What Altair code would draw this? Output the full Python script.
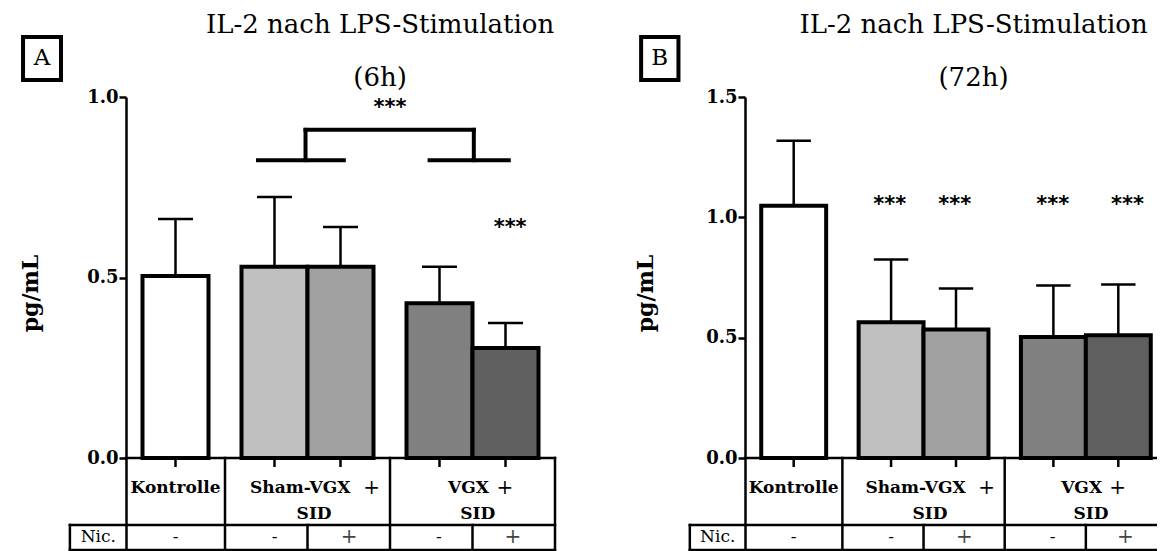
import altair as alt
import pandas as pd

# ---------------- data ----------------
bar_fills = ["#ffffff", "#c0c0c0", "#a0a0a0", "#808080", "#606060"]
mean_6h = [0.504, 0.530, 0.530, 0.429, 0.305]
sd_6h = [0.158, 0.193, 0.110, 0.101, 0.069]
mean_72h = [1.048, 0.564, 0.534, 0.503, 0.510]
sd_72h = [0.270, 0.261, 0.170, 0.214, 0.211]
yticks_6h = [0.0, 0.5, 1.0]
yticks_72h = [0.0, 0.5, 1.0, 1.5]

title_main = "IL-2 nach LPS-Stimulation"
subtitle_6h = "(6h)"
subtitle_72h = "(72h)"
y_title = "pg/mL"
group_bold = ["Kontrolle", "Sham-VGX", "VGX"]
group_line2 = ["SID", "SID"]
nic_label = "Nic."
nic_minus = ["-", "-", "-"]
nic_plus = ["+", "+"]

sig_6h_text = ["***", "***"]
sig_6h_y = [0.97, 0.637]
sig_72h_text = ["***", "***", "***", "***"]
sig_72h_y = [1.051, 1.051, 1.051, 1.051]

# ---------------- layout ----------------
XPOS = [0.75, 2.25, 3.25, 4.75, 5.75]
XMAX = 6.5
CAP = 0.265
TOP_PX = 361.0
BOTTOM_PX = 93.0
H = int(TOP_PX + BOTTOM_PX)
FONT = "DejaVu Serif"
SVG_W, SVG_H = 1149, 535
PAD_L, PAD_T = 118, 89


def y_below(ymax, px):
    return -px / TOP_PX * ymax


def y_above(ymax, px):
    return ymax * (1 + px / TOP_PX)


def panel(means, sds, ymax, yticks, subtitle, letter, width, title_cx,
          ytitle_dx, box_x, sig_text, sig_x, sig_y, brackets):
    ysc = alt.Scale(domain=[y_below(ymax, BOTTOM_PX), ymax], nice=False, zero=False)
    xsc = alt.Scale(domain=[0, XMAX], nice=False, zero=False)
    yaxis = alt.Axis(values=yticks, format=".1f", grid=False, domain=True,
                     domainColor="black", domainWidth=2.5, ticks=True,
                     tickColor="black", tickWidth=2.5, tickSize=7,
                     labelFont=FONT, labelFontWeight="bold", labelFontSize=18,
                     labelColor="black", labelPadding=1,
                     title=y_title, titleFont=FONT, titleFontWeight="bold",
                     titleFontSize=22, titleColor="black", titleX=ytitle_dx,
                     titleY=196, titleBaseline="middle", titleAngle=270,
                     titleAlign="center")

    def X(f):
        return alt.X(f, type="quantitative", scale=xsc, axis=None)

    def Y(f):
        return alt.Y(f, type="quantitative", scale=ysc, axis=yaxis)

    bars = pd.DataFrame({
        "x0": [p - 0.5 for p in XPOS], "x1": [p + 0.5 for p in XPOS], "xc": XPOS,
        "c0": [p - CAP for p in XPOS], "c1": [p + CAP for p in XPOS],
        "base": 0.0, "mean": means, "top": [m + s for m, s in zip(means, sds)],
        "tick": y_below(ymax, 9), "fill": bar_fills,
    })

    rect = alt.Chart(bars).mark_rect(stroke="black", strokeWidth=4).encode(
        x=X("x0"), x2="x1", y=Y("mean"), y2="base",
        fill=alt.Fill("fill:N", scale=None))
    err = alt.Chart(bars).mark_rule(color="black", strokeWidth=2.5).encode(
        x=X("xc"), y=Y("mean"), y2="top")
    cap = alt.Chart(bars).mark_rule(color="black", strokeWidth=2.5).encode(
        x=X("c0"), x2="c1", y=Y("top"))
    ticks = alt.Chart(bars).mark_rule(color="black", strokeWidth=2.5).encode(
        x=X("xc"), y=Y("base"), y2="tick")

    sig = alt.Chart(pd.DataFrame({"t": sig_text, "x": sig_x, "y": sig_y})).mark_text(
        font="DejaVu Sans", fontWeight="bold", fontSize=21, color="black",
        baseline="middle").encode(x=X("x"), y=Y("y"), text="t:N")

    layers = [rect, err, cap, ticks, sig]

    if brackets is not None:
        br = alt.Chart(pd.DataFrame(brackets, columns=["x", "x2", "y", "y2"])).mark_rule(
            color="black", strokeWidth=4, strokeCap="square").encode(
            x=X("x"), x2="x2", y=Y("y"), y2="y2")
        layers.append(br)

    # titles
    tdf = pd.DataFrame({"t": [title_main, subtitle], "x": [title_cx, title_cx],
                        "y": [y_above(ymax, 72), y_above(ymax, 19)]})
    titles = alt.Chart(tdf).mark_text(font=FONT, fontSize=26, color="black",
                                      baseline="middle").encode(
        x=X("x"), y=Y("y"), text="t:N")
    layers.append(titles)

    # letter box
    box = alt.Chart(pd.DataFrame({"x": [box_x], "x2": [box_x + 0.575],
                                  "y": [y_above(ymax, 60)], "y2": [y_above(ymax, 17)],
                                  "t": [letter], "xm": [box_x + 0.2875],
                                  "ym": [y_above(ymax, 39)]}))
    layers.append(box.mark_rect(filled=False, stroke="black", strokeWidth=4).encode(
        x=X("x"), x2="x2", y=Y("y"), y2="y2"))
    layers.append(box.mark_text(font=FONT, fontSize=23, color="black",
                                baseline="middle").encode(
        x=X("xm"), y=Y("ym"), text="t:N"))

    # table lines
    rb = y_below(ymax, 67)
    nb = y_below(ymax, 92)
    segs = [
        (0, XMAX, 0, 0),
        (-0.85, XMAX, rb, rb),
        (-0.85, XMAX, nb, nb),
        (1.5, 1.5, 0, nb),
        (4.0, 4.0, 0, nb),
        (XMAX, XMAX, 0, nb),
        (-0.85, -0.85, rb, nb),
        (2.75, 2.75, rb, nb),
        (5.25, 5.25, rb, nb),
    ]
    lines = alt.Chart(pd.DataFrame(segs, columns=["x", "x2", "y", "y2"])).mark_rule(
        color="black", strokeWidth=2.5, strokeCap="square").encode(
        x=X("x"), x2="x2", y=Y("y"), y2="y2")
    layers.append(lines)

    l1 = y_below(ymax, 30)
    l2 = y_below(ymax, 56)
    ln = y_below(ymax, 79)
    bold_c = pd.DataFrame({"t": [group_bold[0]] + group_line2,
                           "x": [0.75, 2.85, 5.33], "y": [l1, l2, l2]})
    layers.append(alt.Chart(bold_c).mark_text(font=FONT, fontWeight="bold", fontSize=17,
                                              color="black", baseline="middle").encode(
        x=X("x"), y=Y("y"), text="t:N"))
    bold_r = pd.DataFrame({"t": group_bold[1:], "x": [3.40, 5.50], "y": [l1, l1]})
    layers.append(alt.Chart(bold_r).mark_text(font=FONT, fontWeight="bold", fontSize=17,
                                              color="black", baseline="middle",
                                              align="right").encode(
        x=X("x"), y=Y("y"), text="t:N"))
    plus_hdr = pd.DataFrame({"t": ["+", "+"], "x": [3.72, 5.74], "y": [l1, l1]})
    layers.append(alt.Chart(plus_hdr).mark_text(font=FONT, fontSize=20, color="black",
                                                baseline="middle").encode(
        x=X("x"), y=Y("y"), text="t:N"))
    nic_df = pd.DataFrame({"t": [nic_label] + nic_minus,
                           "x": [-0.42, 0.75, 2.25, 4.74],
                           "y": [ln] * 4})
    layers.append(alt.Chart(nic_df).mark_text(font=FONT, fontSize=17, color="black",
                                              baseline="middle").encode(
        x=X("x"), y=Y("y"), text="t:N"))
    nicp_df = pd.DataFrame({"t": nic_plus, "x": [3.38, 5.86], "y": [ln] * 2})
    layers.append(alt.Chart(nicp_df).mark_text(font=FONT, fontSize=20, color="#444444",
                                               baseline="middle").encode(
        x=X("x"), y=Y("y"), text="t:N"))

    return alt.layer(*layers).properties(width=width, height=H)


brackets_6h = [
    (2.0, 3.3, 0.825, 0.825),
    (4.6, 5.8, 0.825, 0.825),
    (2.72, 2.72, 0.825, 0.909),
    (5.27, 5.27, 0.825, 0.909),
    (2.72, 5.27, 0.909, 0.909),
]

pA = panel(mean_6h, sd_6h, 1.0, yticks_6h, subtitle_6h, "A", 429, 3.85, -96, -1.56,
           sig_6h_text, [4.0, 5.82], sig_6h_y, brackets_6h)
pB = panel(mean_72h, sd_72h, 1.5, yticks_72h, subtitle_72h, "B", 422, 3.52, -100, -1.6,
           sig_72h_text, [2.23, 3.23, 4.74, 5.89], sig_72h_y, None)

chart = alt.hconcat(pA, pB, spacing=190, bounds="flush").properties(
    autosize=alt.AutoSizeParams(type="none"),
    padding={"left": PAD_L, "top": PAD_T, "right": SVG_W - PAD_L,
             "bottom": SVG_H - PAD_T},
).configure_view(stroke=None)

chart.save("out.html", embed_options={"renderer": "svg", "actions": False})
